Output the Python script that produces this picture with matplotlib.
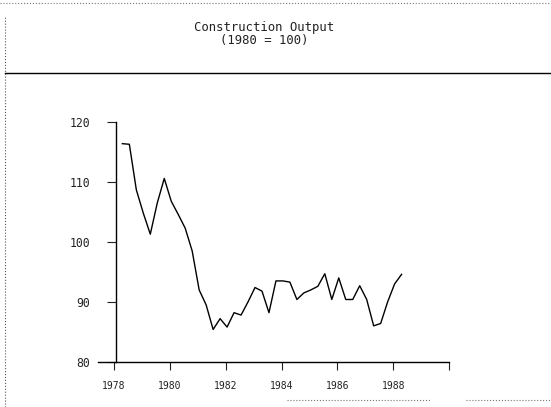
import numpy as np
import matplotlib
matplotlib.use("Agg")
import matplotlib.pyplot as plt
from matplotlib.lines import Line2D

# quarterly index, 1980 = 100
output = [116.4, 116.3, 108.7, 104.8, 101.3, 106.5, 110.6, 106.8, 104.6, 102.3,
          98.5, 92.0, 89.5, 85.4, 87.2, 85.8, 88.2, 87.8, 90.0, 92.4,
          91.8, 88.2, 93.5, 93.5, 93.3, 90.4, 91.5, 92.0, 92.6, 94.7,
          90.4, 94.0, 90.4, 90.4, 92.7, 90.4, 86.0, 86.4, 90.0, 93.0,
          94.6]
start_year = 1978.3
dates = start_year + 0.25 * np.arange(len(output))

x_ticks = [1978, 1980, 1982, 1984, 1986, 1988, 1990]
x_labels = ["1978", "1980", "1982", "1984", "1986", "1988", ""]
y_ticks = [80, 90, 100, 110, 120]

plt.rcParams['font.family'] = ['DejaVu Sans Mono', 'DejaVu Sans']

fig = plt.figure(figsize=(5.51, 4.07), dpi=100)
ax = fig.add_axes([0.178, 0.111, 0.637, 0.589])

ax.plot(dates, output, color='black', lw=1.0)

ax.set_xlim(1977.43, 1990.0)
ax.set_ylim(80, 120)
ax.spines['top'].set_visible(False)
ax.spines['right'].set_visible(False)
ax.spines['left'].set_position(('data', 1978.07))
ax.spines['left'].set_linewidth(1.0)
ax.spines['bottom'].set_linewidth(1.0)

ax.set_xticks(x_ticks)
ax.set_xticklabels(x_labels)
ax.set_yticks(y_ticks)
ax.tick_params(axis='x', direction='out', length=6, width=0.8, pad=8,
               labelsize=7, colors='#222222')
ax.tick_params(axis='y', direction='out', length=6.5, width=0.8, pad=12,
               labelsize=8.3, colors='#222222')
for lab in ax.get_xticklabels():
    lab.set_x(lab.get_position()[0])

fig.text(0.48, 0.932, "Construction Output", ha='center', va='center',
         fontsize=8.8, color='#222222')
fig.text(0.48, 0.900, "(1980 = 100)", ha='center', va='center',
         fontsize=8.8, color='#222222')

# scanned page frame
fig.add_artist(Line2D([0.0, 1.0], [0.992, 0.992], color='#777777', lw=0.8, ls=':'))
fig.add_artist(Line2D([0.009, 0.009], [0.0, 0.96], color='#555555', lw=0.8, ls=':'))
fig.add_artist(Line2D([0.009, 1.0], [0.821, 0.821], color='black', lw=1.0))
fig.add_artist(Line2D([0.52, 0.78], [0.017, 0.017], color='#777777', lw=0.8, ls=':'))
fig.add_artist(Line2D([0.845, 1.0], [0.017, 0.017], color='#777777', lw=0.8, ls=':'))

fig.savefig("out.png", dpi=100)
